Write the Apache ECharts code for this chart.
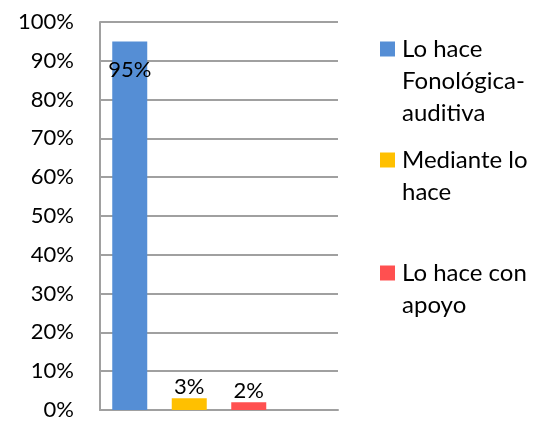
<!DOCTYPE html>
<html>
<head>
<meta charset="utf-8">
<script src="https://cdn.jsdelivr.net/npm/echarts@6/dist/echarts.min.js"></script>
<style>
html,body{margin:0;padding:0;background:#fff;}
#chart{width:541px;height:421px;}
</style>
</head>
<body>
<div id="chart"></div>
<script>
var seriesNames = ['Lo hace Fonológica-auditiva', 'Mediante lo hace', 'Lo hace con apoyo'];
var legendLabels = ['Lo hace\nFonológica-\nauditiva', 'Mediante lo\nhace', 'Lo hace con\napoyo'];
var values = [95, 3, 2];
var colors = ['#558ED5', '#FFC000', '#FF5050'];
var yTicks = [0, 10, 20, 30, 40, 50, 60, 70, 80, 90, 100];
var categories = ['c1', 'c2', 'c3', 'c4'];

var FONT = 'Lato';
var LH = 32;
var LEG_FS = 24;
var iconCenters = [49, 160, 273];

var series = seriesNames.map(function (name, i) {
  var data = categories.map(function (c, j) { return j === i ? values[i] : '-'; });
  return {
    name: name,
    type: 'bar',
    stack: 'all',
    barWidth: 35,
    data: data,
    itemStyle: { color: colors[i] },
    label: {
      show: true,
      position: values[i] > 50 ? 'insideTop' : 'top',
      distance: values[i] > 50 ? 18 : 0,
      formatter: '{c}%',
      color: '#000',
      fontFamily: FONT,
      fontSize: 22
    }
  };
});

var legends = seriesNames.map(function (name, i) {
  var lines = legendLabels[i].split('\n').length;
  var blank = '';
  for (var k = 0; k < lines - 1; k++) blank += '\n';
  var total = 2 * lines - 1;
  return {
    data: [name],
    left: 380,
    top: iconCenters[i] - total * LH / 2,
    padding: 0,
    orient: 'vertical',
    icon: 'rect',
    itemWidth: 15,
    itemHeight: 15,
    itemGap: 0,
    formatter: function () { return blank + legendLabels[i]; },
    textStyle: {
      fontFamily: FONT,
      fontSize: LEG_FS,
      color: '#000',
      lineHeight: LH,
      padding: [0, 0, 0, 2]
    }
  };
});

var chart = echarts.init(document.getElementById('chart'));
chart.setOption({
  animation: false,
  legend: legends,
  grid: { left: 100, right: 203, top: 22, bottom: 9 },
  xAxis: {
    type: 'category',
    data: categories,
    axisLine: { lineStyle: { color: '#A0A0A0', width: 2 } },
    axisTick: { show: false },
    axisLabel: { show: false }
  },
  yAxis: {
    type: 'value',
    min: yTicks[0],
    max: yTicks[yTicks.length - 1],
    interval: 10,
    axisLine: { show: true, lineStyle: { color: '#A0A0A0', width: 2 } },
    axisTick: { show: false },
    splitLine: { lineStyle: { color: '#A0A0A0', width: 2 } },
    axisLabel: {
      formatter: '{value}%',
      fontFamily: FONT,
      fontSize: 22,
      color: '#000',
      margin: 26
    }
  },
  series: series
});
</script>
</body>
</html>
